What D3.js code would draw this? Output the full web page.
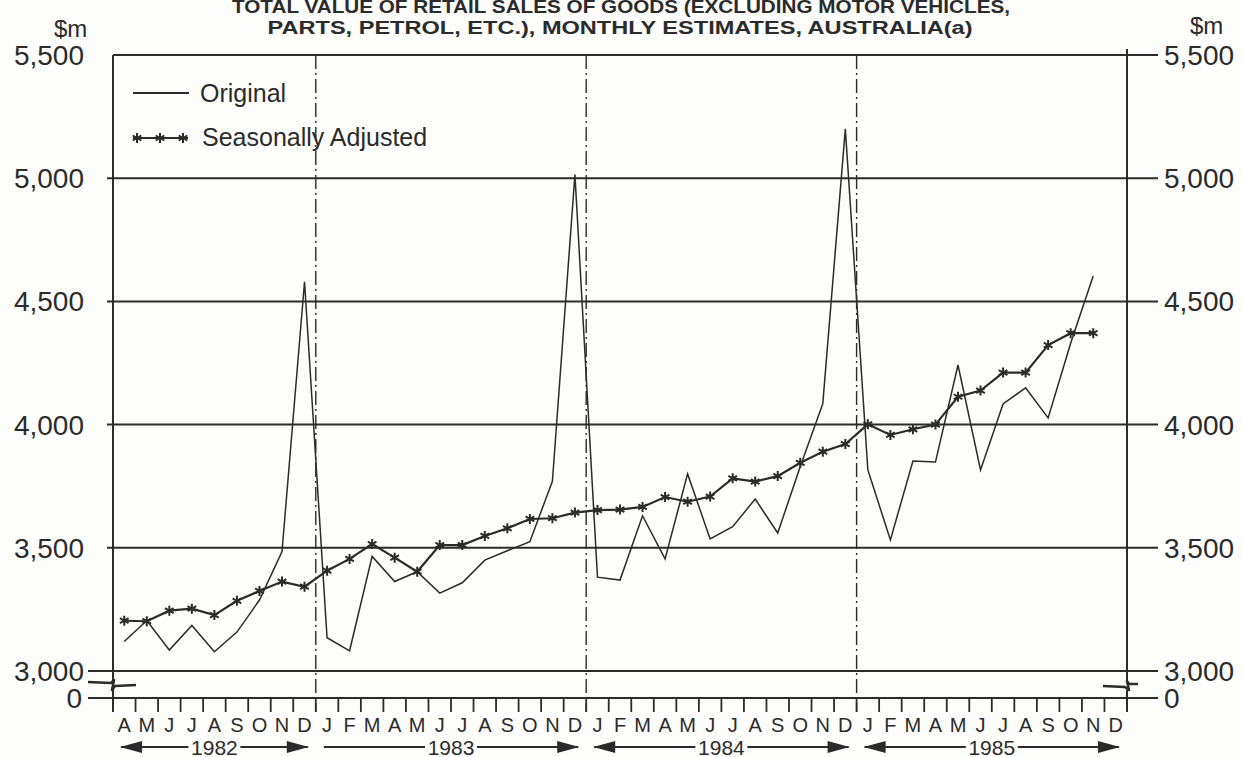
<!DOCTYPE html>
<head>
<meta charset="utf-8" />
<script src="https://d3js.org/d3.v7.min.js"></script>
<style>
    body { margin: 0; background: #fdfdfb; }
    svg { display: block; }
    text { font-family: "Liberation Sans", Arial, sans-serif; fill: #2b2b2b; }
    .title { font-family: "Liberation Sans Narrow", "Arial Narrow", "Liberation Sans", sans-serif; font-weight: bold; }
</style>
</head>
<body>
<div id="chart"></div>
<script>
// months shown on the axis, April 1982 to December 1985
var monthLabels = ["A","M","J","J","A","S","O","N","D",
    "J","F","M","A","M","J","J","A","S","O","N","D",
    "J","F","M","A","M","J","J","A","S","O","N","D",
    "J","F","M","A","M","J","J","A","S","O","N","D"];
var years = [
    { year: "1982", start: 0, end: 9, leftArrow: true },
    { year: "1983", start: 9, end: 21, leftArrow: false },
    { year: "1984", start: 21, end: 33, leftArrow: true },
    { year: "1985", start: 33, end: 45, leftArrow: true }
];
// $m, Apr 1982 .. Nov 1985
var original = [3120,3205,3085,3185,3078,3158,3288,3485,4580,
    3135,3082,3465,3363,3403,3316,3358,3450,3488,3525,3770,5015,
    3381,3369,3630,3455,3800,3536,3586,3698,3560,3830,4085,5200,
    3816,3532,3852,3848,4242,3816,4084,4149,4027,4330,4603];
var adjusted = [3204,3202,3245,3253,3227,3285,3325,3363,3342,
    3407,3455,3515,3460,3403,3511,3511,3548,3579,3617,3620,3643,
    3653,3655,3666,3706,3687,3708,3782,3769,3791,3845,3890,3921,
    4001,3958,3981,4000,4113,4138,4211,4211,4323,4371,4371];
var yTicks = [3000, 3500, 4000, 4500, 5000, 5500];

var width = 1243, height = 757;
var ink = "#2b2b2b";
var left = 113, right = 1127, zeroY = 698, tickBottom = 712;

var svg = d3.select("#chart").append("svg")
    .attr("width", width).attr("height", height);

var x = d3.scaleLinear().domain([0, monthLabels.length]).range([left, right]);
var y = d3.scaleLinear().domain([3000, 5500]).range([671, 55]);

// title
svg.append("text").attr("class", "title")
    .attr("x", 621).attr("y", 13).attr("text-anchor", "middle")
    .attr("font-size", 18).attr("textLength", 778).attr("lengthAdjust", "spacingAndGlyphs")
    .text("TOTAL VALUE OF RETAIL SALES OF GOODS (EXCLUDING MOTOR VEHICLES,");
svg.append("text").attr("class", "title")
    .attr("x", 620).attr("y", 34).attr("text-anchor", "middle")
    .attr("font-size", 18).attr("textLength", 705).attr("lengthAdjust", "spacingAndGlyphs")
    .text("PARTS, PETROL, ETC.), MONTHLY ESTIMATES, AUSTRALIA(a)");

svg.append("text").attr("x", 54).attr("y", 37).attr("font-size", 24).text("$m");
svg.append("text").attr("x", 1190).attr("y", 34).attr("font-size", 24).text("$m");

// horizontal grid lines
var grid = svg.append("g").attr("stroke", ink).attr("stroke-width", 2);
grid.selectAll("line.g").data(yTicks).join("line")
    .attr("x1", function(d) { return d == 5500 ? left : (d == 3000 ? 88 : 107); })
    .attr("x2", 1158)
    .attr("y1", function(d) { return y(d); })
    .attr("y2", function(d) { return y(d); });
grid.append("line").attr("x1", 88).attr("x2", 1158).attr("y1", zeroY).attr("y2", zeroY);

// left & right y labels
var fmt = d3.format(",");
svg.append("g").selectAll("text").data(yTicks).join("text")
    .attr("x", 84).attr("y", function(d) { return y(d) + 10; })
    .attr("text-anchor", "end").attr("font-size", 28)
    .text(function(d) { return fmt(d); });
svg.append("g").selectAll("text").data(yTicks).join("text")
    .attr("x", 1164).attr("y", function(d) { return y(d) + 10; })
    .attr("font-size", 28)
    .text(function(d) { return fmt(d); });
svg.append("text").attr("x", 82).attr("y", zeroY + 10).attr("text-anchor", "end").attr("font-size", 28).text("0");
svg.append("text").attr("x", 1164).attr("y", zeroY + 10).attr("font-size", 28).text("0");

// axis lines with breaks
svg.append("line").attr("x1", left).attr("x2", left).attr("y1", 55).attr("y2", 682)
    .attr("stroke", ink).attr("stroke-width", 2);
svg.append("line").attr("x1", left).attr("x2", left).attr("y1", 689).attr("y2", tickBottom)
    .attr("stroke", ink).attr("stroke-width", 2);
svg.append("line").attr("x1", right).attr("x2", right).attr("y1", 49).attr("y2", 683)
    .attr("stroke", ink).attr("stroke-width", 2);
svg.append("line").attr("x1", right).attr("x2", right).attr("y1", 690).attr("y2", tickBottom)
    .attr("stroke", ink).attr("stroke-width", 2);
svg.append("path").attr("d", "M88,682 L111,683 L114,680 L112,690 L115,686 L136,685")
    .attr("fill", "none").attr("stroke", ink).attr("stroke-width", 2.5).attr("stroke-linejoin", "round");
svg.append("path").attr("d", "M1103,686 L1125,687 L1129,690 L1127,681 L1129,684 L1138,684")
    .attr("fill", "none").attr("stroke", ink).attr("stroke-width", 2.5).attr("stroke-linejoin", "round");

// year dividers
var dividers = [9, 21, 33];
svg.append("g").selectAll("line").data(dividers).join("line")
    .attr("x1", function(d) { return x(d); }).attr("x2", function(d) { return x(d); })
    .attr("y1", 55).attr("y2", tickBottom)
    .attr("stroke", ink).attr("stroke-width", 1.4).attr("stroke-dasharray", "14,4,2,4");

// month ticks and labels
svg.append("g").selectAll("line").data(d3.range(monthLabels.length + 1)).join("line")
    .attr("x1", function(d) { return x(d); }).attr("x2", function(d) { return x(d); })
    .attr("y1", zeroY).attr("y2", tickBottom)
    .attr("stroke", ink).attr("stroke-width", 1.8);
svg.append("g").selectAll("text").data(monthLabels).join("text")
    .attr("x", function(d, i) { return x(i + 0.5); }).attr("y", 732)
    .attr("text-anchor", "middle").attr("font-size", 20)
    .text(function(d) { return d; });

// year labels with arrows
var yg = svg.append("g").selectAll("g").data(years).join("g");
yg.append("text")
    .attr("x", function(d) { return (x(d.start) + x(d.end)) / 2; }).attr("y", 755)
    .attr("text-anchor", "middle").attr("font-size", 21)
    .text(function(d) { return d.year; });
yg.append("line")
    .attr("x1", function(d) { return x(d.start) + 8; })
    .attr("x2", function(d) { return (x(d.start) + x(d.end)) / 2 - 26; })
    .attr("y1", 747).attr("y2", 747).attr("stroke", ink).attr("stroke-width", 2);
yg.append("line")
    .attr("x1", function(d) { return (x(d.start) + x(d.end)) / 2 + 26; })
    .attr("x2", function(d) { return x(d.end) - 8; })
    .attr("y1", 747).attr("y2", 747).attr("stroke", ink).attr("stroke-width", 2);
yg.filter(function(d) { return d.leftArrow; }).append("path")
    .attr("d", function(d) { var a = x(d.start) + 7; return "M" + a + ",747 L" + (a + 22) + ",741 L" + (a + 22) + ",753 Z"; })
    .attr("fill", ink);
yg.append("path")
    .attr("d", function(d) { var a = x(d.end) - 7; return "M" + a + ",747 L" + (a - 22) + ",741 L" + (a - 22) + ",753 Z"; })
    .attr("fill", ink);

// series
var line = d3.line()
    .x(function(d, i) { return x(i + 0.5); })
    .y(function(d) { return y(d); });

svg.append("path").datum(original).attr("d", line)
    .attr("fill", "none").attr("stroke", ink).attr("stroke-width", 1.5).attr("stroke-linejoin", "miter");

svg.append("path").datum(adjusted).attr("d", line)
    .attr("fill", "none").attr("stroke", ink).attr("stroke-width", 2.2);

var star = d3.symbol().type(d3.symbolAsterisk).size(70);
svg.append("g").selectAll("path").data(adjusted).join("path")
    .attr("transform", function(d, i) { return "translate(" + x(i + 0.5) + "," + y(d) + ")"; })
    .attr("d", star).attr("fill", "none").attr("stroke", ink).attr("stroke-width", 2);

// legend
svg.append("line").attr("x1", 133).attr("x2", 189).attr("y1", 93).attr("y2", 93)
    .attr("stroke", ink).attr("stroke-width", 2);
svg.append("text").attr("x", 200).attr("y", 102).attr("font-size", 25).text("Original");
svg.append("line").attr("x1", 133).attr("x2", 188).attr("y1", 138).attr("y2", 138)
    .attr("stroke", ink).attr("stroke-width", 2.2);
svg.append("g").selectAll("path").data([137, 160, 183]).join("path")
    .attr("transform", function(d) { return "translate(" + d + ",138)"; })
    .attr("d", star).attr("fill", "none").attr("stroke", ink).attr("stroke-width", 2);
svg.append("text").attr("x", 202).attr("y", 146).attr("font-size", 25).text("Seasonally Adjusted");
</script>
</body>
